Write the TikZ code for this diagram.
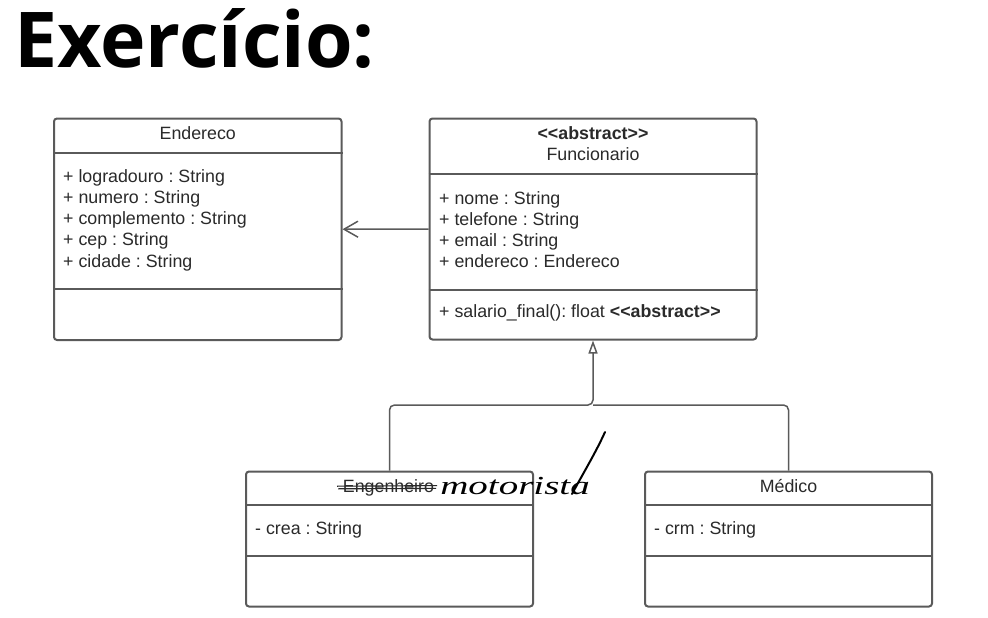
\documentclass[tikz,border=0pt]{standalone}
\usepackage{fontspec}
\setmainfont{Liberation Sans}
\newfontfamily\titlefont{Open Sans}
\newfontfamily\handfont{Liberation Serif}
\usetikzlibrary{arrows.meta}
\frenchspacing
\definecolor{linegray}{HTML}{5A5A5A}
\definecolor{txt}{HTML}{2A2A2A}
\tikzset{
  umlbox/.style={draw=linegray, line width=2pt, rounded corners=3pt, inner sep=0pt, fill=white},
  divider/.style={draw=linegray, line width=2pt},
  lbl/.style={inner sep=0pt, text=txt, font=\frenchspacing\fontsize{17.8}{21}\selectfont},
  assoc/.style={draw=linegray, line width=1.5pt, -{Straight Barb[length=14pt,width=16pt,line width=1.5pt]}},
  genline/.style={draw=linegray, line width=1.5pt, rounded corners=5pt},
  genarrow/.style={-{Triangle[open,length=13pt,width=9pt,line width=1.5pt]}},
}
\begin{document}
\begin{tikzpicture}[x=1pt,y=-1pt]
\useasboundingbox (0,0) rectangle (988,618);
% title
\node[anchor=base west, inner sep=0pt, font=\titlefont\bfseries\fontsize{77}{86}\selectfont] (title) at (14,68) {Exercício:};

% boxes
\node[umlbox, minimum width=287.5pt, minimum height=221.5pt] (end) at (197.75,229.25) {};
\node[umlbox, minimum width=327pt, minimum height=221pt] (func) at (593,229) {};
\node[umlbox, minimum width=287pt, minimum height=135pt] (eng) at (389.5,539) {};
\node[umlbox, minimum width=287pt, minimum height=135pt] (med) at (788.5,539) {};

% dividers
\draw[divider] (end.west |- 0,152.7) -- (end.east |- 0,152.7);
\draw[divider] (end.west |- 0,289) -- (end.east |- 0,289);
\draw[divider] (func.west |- 0,174) -- (func.east |- 0,174);
\draw[divider] (func.west |- 0,290) -- (func.east |- 0,290);
\draw[divider] (eng.west |- 0,505) -- (eng.east |- 0,505);
\draw[divider] (eng.west |- 0,556) -- (eng.east |- 0,556);
\draw[divider] (med.west |- 0,505) -- (med.east |- 0,505);
\draw[divider] (med.west |- 0,556) -- (med.east |- 0,556);

% Endereco texts
\node[lbl, anchor=base] (endname) at (197.75,139.5) {Endereco};
\node[lbl, anchor=base west] (e1) at (63,182) {+ logradouro : String};
\node[lbl, anchor=base west] (e2) at (63,203.3) {+ numero : String};
\node[lbl, anchor=base west] (e3) at (63,224.6) {+ complemento : String};
\node[lbl, anchor=base west] (e4) at (63,245.9) {+ cep : String};
\node[lbl, anchor=base west] (e5) at (63,267.2) {+ cidade : String};

% Funcionario texts
\node[lbl, anchor=base, font=\bfseries\fontsize{17.8}{21}\selectfont] (fster) at (593,139) {<{}<abstract>{}>};
\node[lbl, anchor=base] (fname) at (593,160.5) {Funcionario};
\node[lbl, anchor=base west] (f1) at (439,204) {+ nome : String};
\node[lbl, anchor=base west] (f2) at (439,225.3) {+ telefone : String};
\node[lbl, anchor=base west] (f3) at (439,246.6) {+ email : String};
\node[lbl, anchor=base west] (f4) at (439,267.9) {+ endereco : Endereco};
\node[lbl, anchor=base west] (fm) at (439,317.5) {+ salario\_final(): float \textbf{<{}<abstract>{}>}};

% Engenheiro texts
\node[lbl, anchor=base] (engname) at (388.5,492) {Engenheiro};
\draw[txt, line width=1.1pt] (337,486.2) -- (437,485.6);
\draw[txt, line width=1.1pt] (338,488.8) -- (436,488.4);
\node[lbl, anchor=base west] (g1) at (255,534) {- crea : String};
\node[anchor=base west, inner sep=0pt, text=black, xscale=1.5, font=\handfont\itshape\fontsize{26}{30}\selectfont] (hand) at (440,494) {motorista};
\draw[black, line width=2pt, line cap=round] (605,432) .. controls (596,452) and (585,470) .. (572,494);

% Medico texts
\node[lbl, anchor=base] (medname) at (788.5,492) {Médico};
\node[lbl, anchor=base west] (m1) at (654,534) {- crm : String};

% connectors
\draw[assoc] (func.west) -- (end.east);
\coordinate (j) at (593,405);
\draw[genline, genarrow] (eng.north) |- (j) -- (func.south);
\draw[genline] (med.north) |- (j);
\end{tikzpicture}
\end{document}
